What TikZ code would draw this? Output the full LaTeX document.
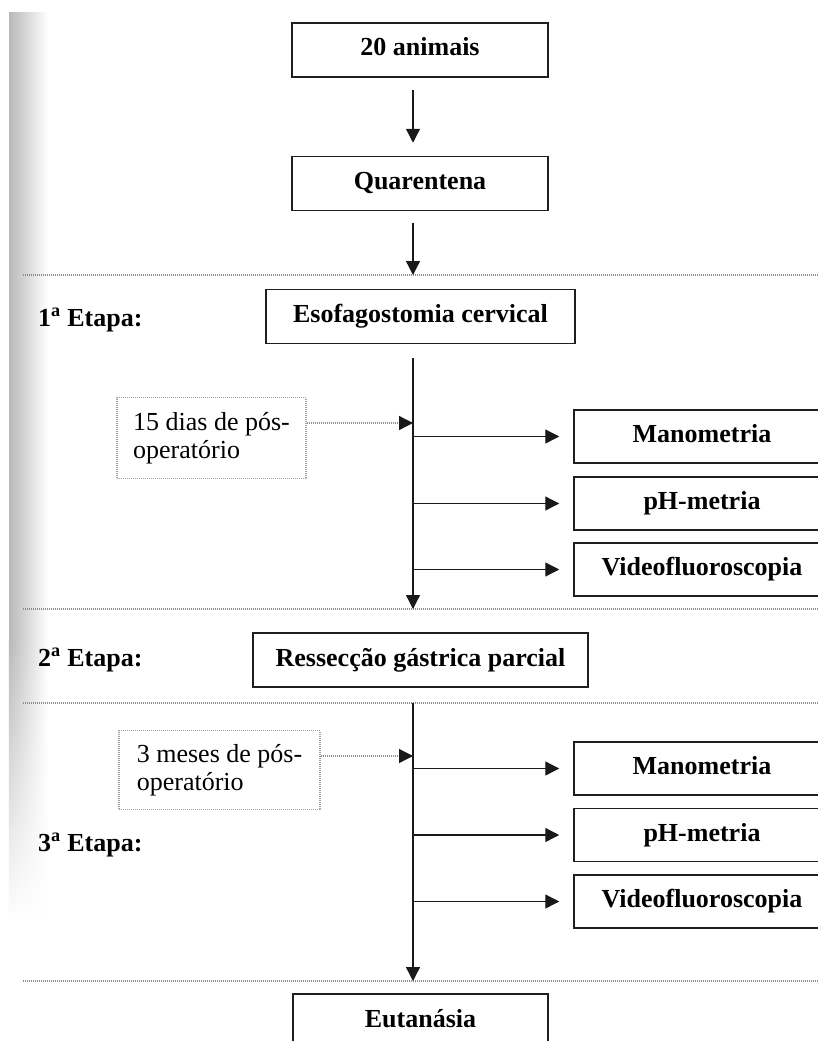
\documentclass[tikz,border=0pt]{standalone}
\usepackage{fontspec}
\setmainfont{Liberation Serif}
\usetikzlibrary{arrows.meta,calc,fadings}
\begin{document}
\begin{tikzpicture}[x=1pt,y=-1pt,
  box/.style={draw=black!88, line width=1.5pt, inner sep=0pt, minimum height=54pt,
    font=\bfseries\fontsize{26}{28}\selectfont, text height=17.5pt, text depth=5.5pt},
  rbox/.style={box, minimum width=256pt, minimum height=53pt},
  dotbox/.style={draw=gray!75, line width=1.3pt, dash pattern=on 1pt off 1pt,
    inner sep=0pt, align=left, font=\fontsize{26}{28}\selectfont},
  lab/.style={anchor=west, inner sep=0pt, font=\bfseries\fontsize{26}{28}\selectfont},
  sepline/.style={draw=gray!90, line width=1.8pt, dash pattern=on 1.2pt off 0.8pt},
  arr/.style={draw=black!90, line width=1.3pt, -{Triangle[length=14pt,width=14pt]}},
  darr/.style={draw=gray!85, line width=1.3pt, dash pattern=on 1pt off 1pt,
    -{Triangle[length=14pt,width=14pt,color=black!90]}}]
\useasboundingbox (0,0) rectangle (818,1041);
\clip (0,0) rectangle (818,1041);
\fill[white] (0,0) rectangle (818,1041);
% scan shadow at the left edge
\shade[left color=gray!55, right color=white] (9,13) rectangle (48,640);
\shade[left color=gray!55, right color=white, path fading=south] (9,640) rectangle (48,920);

% spine x and separator lines
\coordinate (sx) at (413,0);
\coordinate (d1a) at (23,275);  \coordinate (d1b) at (818,275);
\coordinate (d2a) at (23,609);  \coordinate (d2b) at (818,609);
\coordinate (d3a) at (23,703);  \coordinate (d3b) at (818,703);
\coordinate (d4a) at (23,981);  \coordinate (d4b) at (818,981);
\draw[sepline] (d1a) -- (d1b);
\draw[sepline] (d2a) -- (d2b);
\draw[sepline] (d3a) -- (d3b);
\draw[sepline] (d4a) -- (d4b);

% main boxes
\node[box, minimum width=256pt] (n20) at (420,50) {20 animais};
\node[box, minimum width=256pt] (qua) at (420,183.5) {Quarentena};
\node[box, minimum width=309pt] (eso) at (420.5,316.5) {Esofagostomia cervical};
\node[box, minimum width=335pt] (res) at (420.5,660) {Ressecção gástrica parcial};
\node[box, minimum width=255pt] (eut) at (420.5,1021) {Eutanásia};

% stage labels
\node[lab] (e1) at (38,320) {1\textsuperscript{a} Etapa:};
\node[lab] (e2) at (38,660) {2\textsuperscript{a} Etapa:};
\node[lab] (e3) at (38,845) {3\textsuperscript{a} Etapa:};

% stage 1 exams
\node[rbox] (man1) at (702,436.5) {Manometria};
\node[rbox] (ph1)  at (702,503.5) {pH-metria};
\node[rbox] (vid1) at (702,569.5) {Videofluoroscopia};
\node[dotbox, minimum width=189pt, minimum height=81pt] (d15) at (211.5,438)
  {15 dias de pós-\\operatório};

% stage 3 exams
\node[rbox] (man3) at (702,768.5) {Manometria};
\node[rbox] (ph3)  at (702,835)   {pH-metria};
\node[rbox] (vid3) at (702,901.5) {Videofluoroscopia};
\node[dotbox, minimum width=201pt, minimum height=79pt] (d3m) at (219.5,770)
  {3 meses de pós-\\operatório};

% top arrows
\draw[arr, shorten <=12pt, shorten >=13pt] (n20.south -| sx) -- (qua.north -| sx);
\draw[arr, shorten <=12pt] (qua.south -| sx) -- (d1a -| sx);

% stage 1 spine and branches
\draw[arr, shorten <=14pt] (eso.south -| sx) -- (d2a -| sx);
\draw[darr] ([yshift=15pt]d15.east) -- ([yshift=15pt]d15.east -| sx);
\draw[arr, shorten >=14pt] (man1.west -| sx) -- (man1.west);
\draw[arr, shorten >=14pt] (ph1.west -| sx) -- (ph1.west);
\draw[arr, shorten >=14pt] (vid1.west -| sx) -- (vid1.west);

% stage 3 spine and branches
\draw[arr] (d3a -| sx) -- (d4a -| sx);
\draw[darr] ([yshift=14pt]d3m.east) -- ([yshift=14pt]d3m.east -| sx);
\draw[arr, shorten >=14pt] (man3.west -| sx) -- (man3.west);
\draw[arr, shorten >=14pt] (ph3.west -| sx) -- (ph3.west);
\draw[arr, shorten >=14pt] (vid3.west -| sx) -- (vid3.west);
\end{tikzpicture}
\end{document}
